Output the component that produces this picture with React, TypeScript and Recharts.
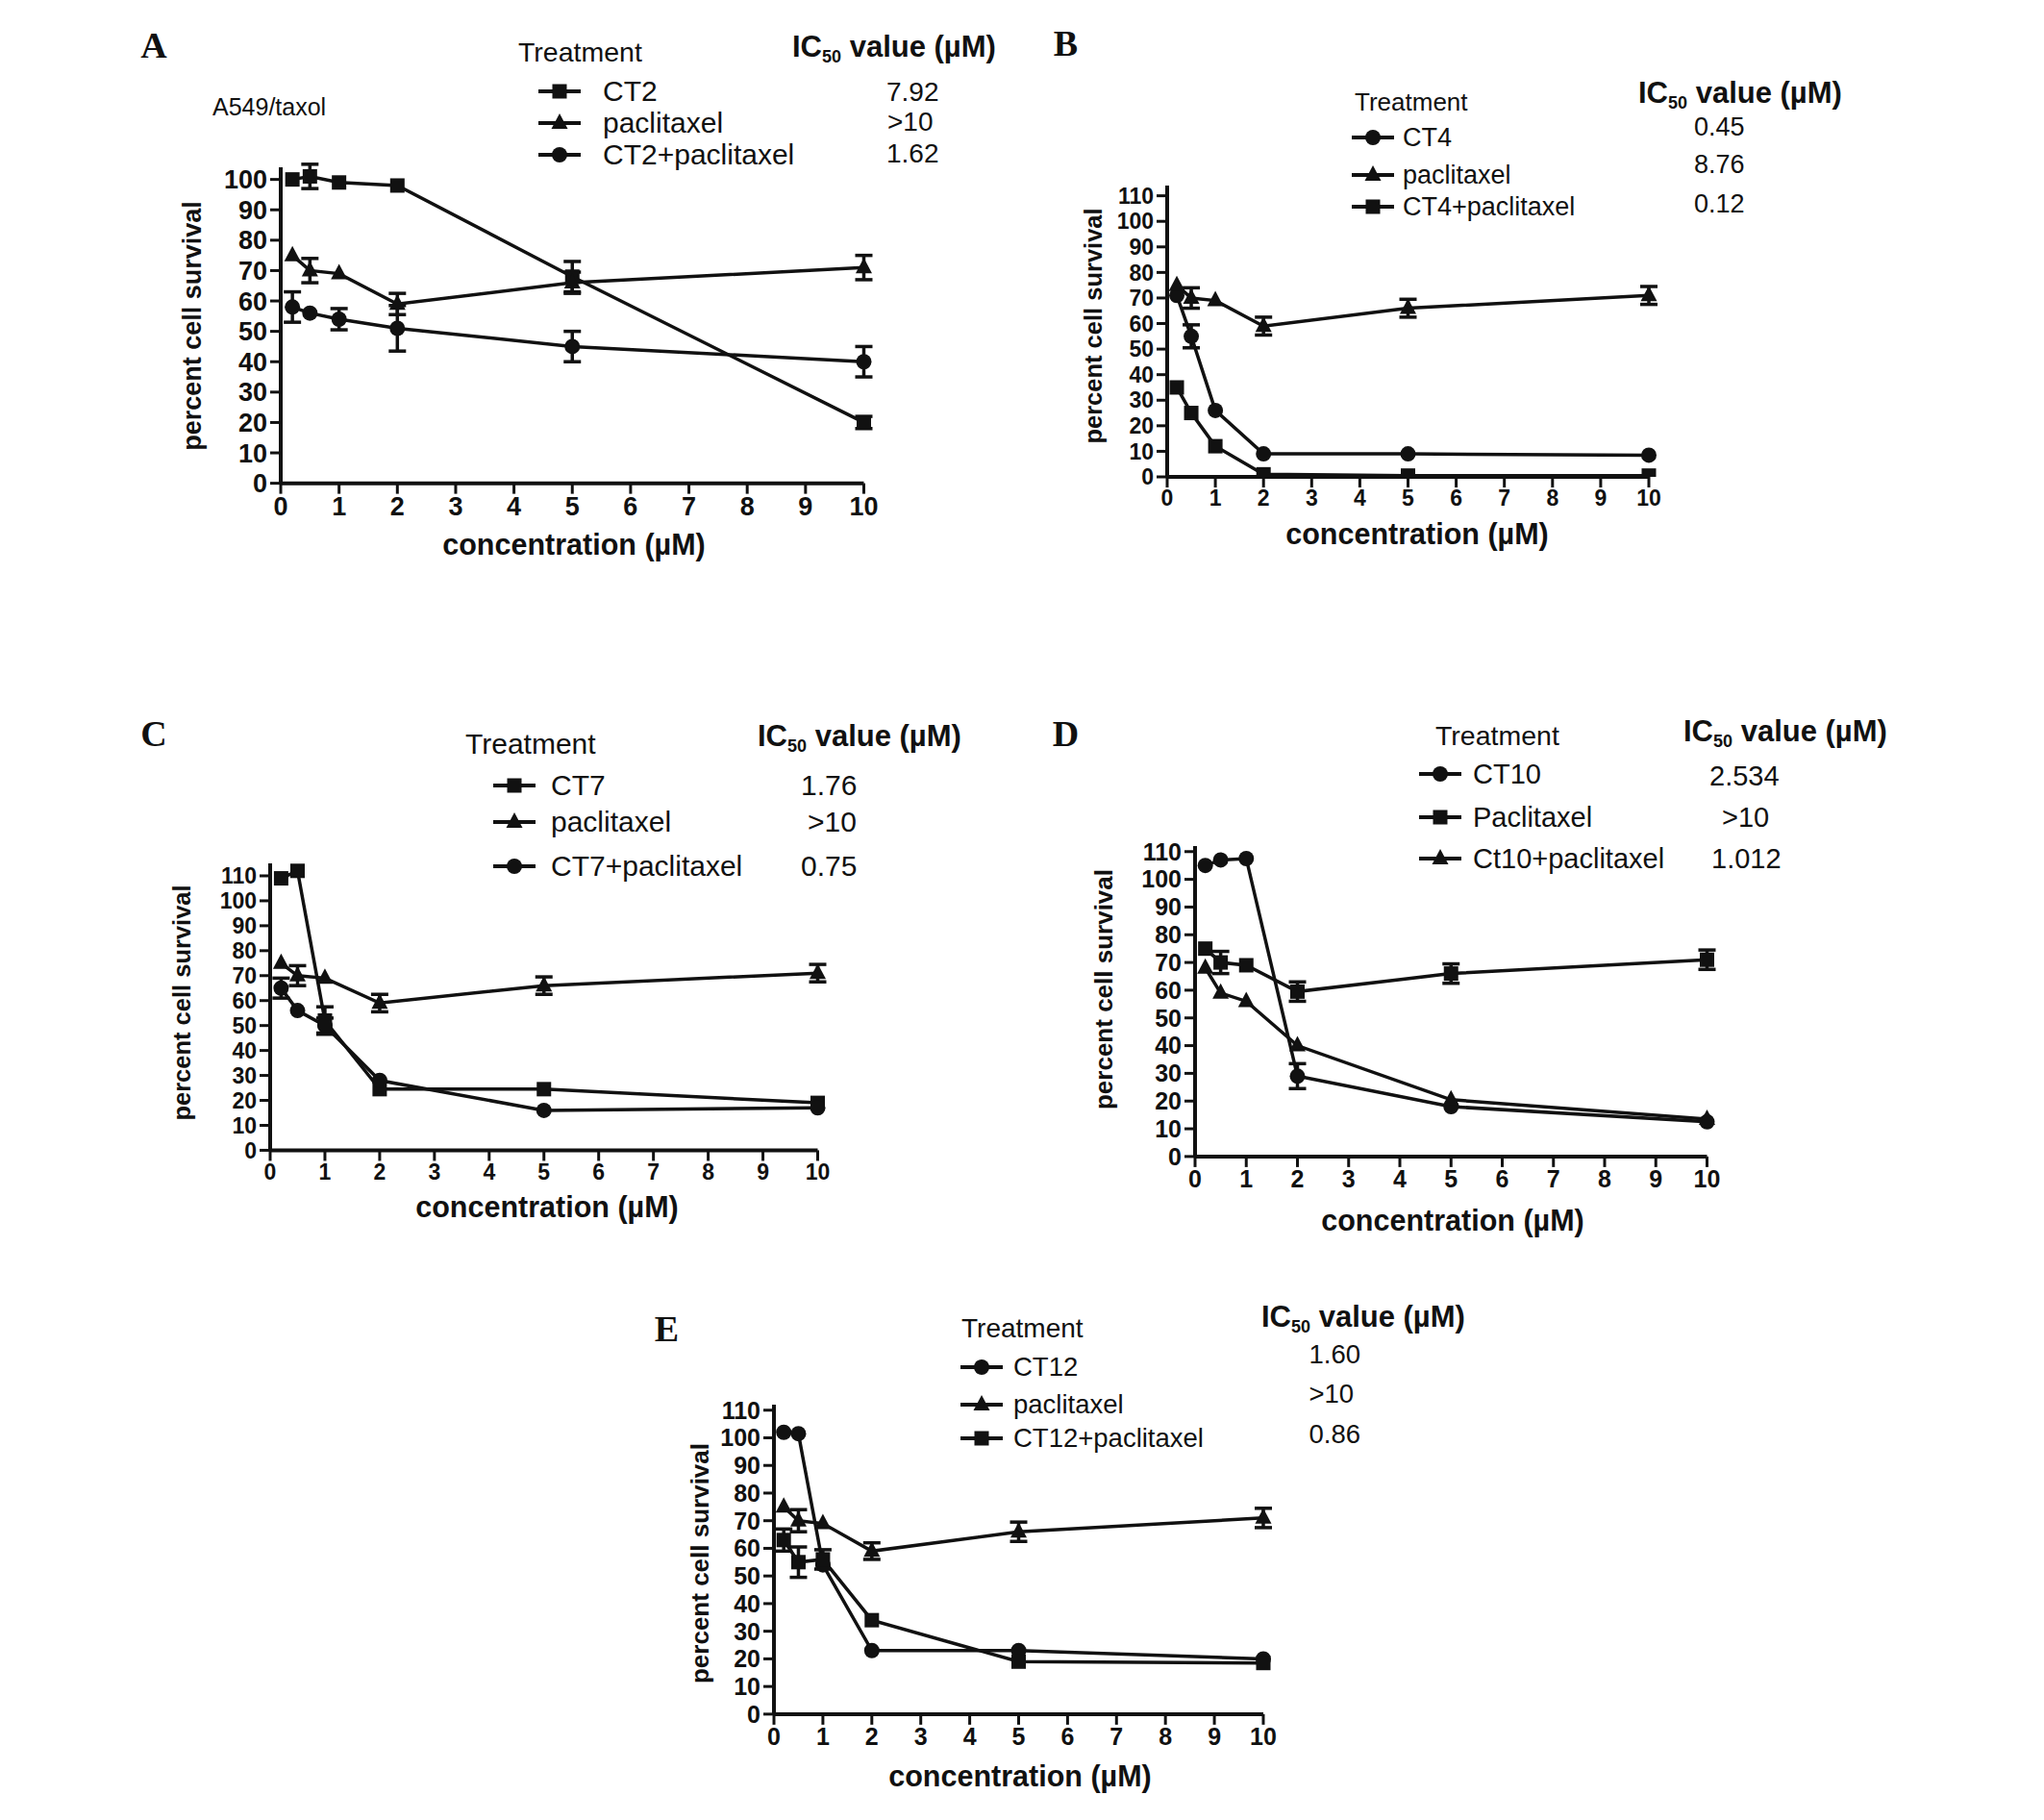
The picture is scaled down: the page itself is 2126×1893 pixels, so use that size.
import React from 'react'
import { LineChart, Line, XAxis, YAxis, ErrorBar } from 'recharts'

// shared x values (µM) and ticks
const concentrations = [0.2, 0.5, 1, 2, 5, 10]
const xTicks = [0, 1, 2, 3, 4, 5, 6, 7, 8, 9, 10]
const yTicks100 = [0, 10, 20, 30, 40, 50, 60, 70, 80, 90, 100]
const yTicks110 = [0, 10, 20, 30, 40, 50, 60, 70, 80, 90, 100, 110]

// panel A
const aCT2 = [100, 101, 99, 98, 68, 20]
const aCT2Err = [null, 4, null, null, 5, 2]
const aPac = [75, 70, 69, 59, 66, 71]
const aPacErr = [null, 4, null, 3.5, 3.5, 4]
const aCombo = [58, 56, 54, 51, 45, 40]
const aComboErr = [5, null, 3.5, 7.5, 5, 5]
const aIC50 = ['7.92', '>10', '1.62']

// panel B
const bCT4 = [71, 55, 26, 9, 9, 8.5]
const bCT4Err = [null, 4.5, null, null, null, null]
const bPac = [75, 70, 69, 59, 66, 71]
const bPacErr = [null, 4, null, 3.5, 3.5, 3.5]
const bCombo = [35, 25, 12, 1, 0.5, 0.5]
const bIC50 = ['0.45', '8.76', '0.12']

// panel C
const cCT7 = [109, 112, 52, 24.5, 24.5, 19]
const cCT7Err = [null, null, 5.5, null, null, null]
const cPac = [75, 70, 69, 59, 66, 71]
const cPacErr = [null, 4, null, 3.5, 3.5, 3.5]
const cCombo = [65, 56, 50, 28, 16, 17]
const cComboErr = [4, null, 3, null, null, null]
const cIC50 = ['1.76', '>10', '0.75']

// panel D
const dCT10 = [105, 107, 107.5, 29, 18, 12.5]
const dCT10Err = [null, null, null, 4.5, null, null]
const dPac = [75, 70, 69, 59.5, 66, 71]
const dPacErr = [null, 4, null, 3.5, 3.5, 3.5]
const dCombo = [68, 59, 56, 40, 20.5, 13.5]
const dIC50 = ['2.534', '>10', '1.012']

// panel E
const eCT12 = [102, 101.5, 54, 23, 23, 20]
const ePac = [75, 70, 69, 59, 66, 71]
const ePacErr = [null, 4, null, 3, 3.5, 3.5]
const eCombo = [63, 55, 56, 34, 19, 18.5]
const eComboErr = [4, 5.5, 3.5, null, null, null]
const eIC50 = ['1.60', '>10', '0.86']

type Shape = 'square' | 'triangle' | 'circle'

interface Series {
  name: string
  shape: Shape
  values: number[]
  errors?: (number | null)[]
}

const INK = '#111'
const SANS = '"Liberation Sans", Arial, sans-serif'

function drawShape(shape: Shape, cx: number, cy: number) {
  if (shape === 'square') return <rect x={cx - 7.5} y={cy - 7.5} width={15} height={15} fill={INK} />
  if (shape === 'circle') return <circle cx={cx} cy={cy} r={8} fill={INK} />
  return <polygon points={`${cx},${cy - 10} ${cx + 8.5},${cy + 6} ${cx - 8.5},${cy + 6}`} fill={INK} />
}

const makeDot = (shape: Shape) => (props: any) => {
  const { cx, cy, index } = props
  if (cx == null || cy == null) return <g key={index} />
  return <g key={index}>{drawShape(shape, cx, cy)}</g>
}

function LegendSymbol({ shape }: { shape: Shape }) {
  return (
    <svg width={48} height={24} style={{ position: 'absolute', left: 0, top: -12 }}>
      <line x1={2} y1={12} x2={46} y2={12} stroke={INK} strokeWidth={4} />
      {drawShape(shape, 24, 12)}
    </svg>
  )
}

function Txt({ x, y, size, bold, children, center }: any) {
  return (
    <div
      style={{
        position: 'absolute',
        left: x,
        top: y,
        transform: center ? 'translate(-50%, -50%)' : 'translateY(-50%)',
        fontFamily: SANS,
        fontSize: size,
        fontWeight: bold ? 'bold' : 'normal',
        lineHeight: 1,
        whiteSpace: 'nowrap',
        color: INK,
      }}
    >
      {children}
    </div>
  )
}

interface PanelProps {
  letter: string
  letterPos: [number, number]
  series: Series[]
  ic50: string[]
  plot: { left: number; right: number; y0: number; perUnit: number; yMax: number }
  yTicks: number[]
  treatmentPos: [number, number]
  icPos: [number, number]
  rowsY: number[]
  symbolX: number
  textX: number
  valuesX: number[]
  valuesY: number[]
  yLabel: [number, number]
  xLabel: [number, number]
  fonts: { tick: number; yLabel: number; legend: number; treat: number; value: number }
  note?: { text: string; x: number; y: number }
}

function Panel(p: PanelProps) {
  const rows = concentrations.map((c, i) => {
    const row: any = { x: c }
    p.series.forEach((s, k) => {
      row[`s${k}`] = s.values[i]
      row[`e${k}`] = s.errors ? s.errors[i] : null
    })
    return row
  })
  const plotW = p.plot.right - p.plot.left
  const plotH = p.plot.yMax * p.plot.perUnit
  const top = p.plot.y0 - plotH
  const padL = 130
  const padT = 24
  const padR = 40
  const axisH = 70
  const tickStyle = { fill: INK, fontSize: p.fonts.tick, fontWeight: 'bold', fontFamily: SANS }

  return (
    <>
      <div style={{ position: 'absolute', left: p.plot.left - padL, top: top - padT }}>
        <LineChart
          width={plotW + padL + padR}
          height={plotH + padT + axisH}
          data={rows}
          margin={{ top: padT, right: padR, bottom: 0, left: 20 }}
        >
          <XAxis
            dataKey="x"
            type="number"
            domain={[0, 10]}
            ticks={xTicks}
            interval={0}
            height={axisH}
            stroke={INK}
            strokeWidth={4}
            tickSize={11}
            tickMargin={3}
            tick={tickStyle}
            tickLine={{ stroke: INK, strokeWidth: 3 }}
          />
          <YAxis
            type="number"
            domain={[0, p.plot.yMax]}
            ticks={p.yTicks}
            interval={0}
            width={110}
            stroke={INK}
            strokeWidth={4}
            tickSize={11}
            tickMargin={3}
            tick={tickStyle}
            tickLine={{ stroke: INK, strokeWidth: 3 }}
            allowDataOverflow
          />
          {p.series.map((s, k) => (
            <Line
              key={s.name}
              type="linear"
              dataKey={`s${k}`}
              stroke={INK}
              strokeWidth={3.5}
              dot={makeDot(s.shape)}
              activeDot={false}
              isAnimationActive={false}
            >
              {s.errors && (
                <ErrorBar dataKey={`e${k}`} width={9} strokeWidth={3.5} stroke={INK} direction="y" />
              )}
            </Line>
          ))}
        </LineChart>
      </div>

      <div
        style={{
          position: 'absolute',
          left: p.letterPos[0],
          top: p.letterPos[1],
          transform: 'translate(-50%, -50%)',
          fontFamily: '"Liberation Serif", "Times New Roman", serif',
          fontWeight: 'bold',
          fontSize: 38,
          lineHeight: 1,
          color: INK,
        }}
      >
        {p.letter}
      </div>

      <Txt x={p.treatmentPos[0]} y={p.treatmentPos[1]} size={p.fonts.treat}>Treatment</Txt>
      <Txt x={p.icPos[0]} y={p.icPos[1]} size={31} bold>
        IC<span style={{ fontSize: 18, verticalAlign: -6 }}>50</span> value (µM)
      </Txt>
      {p.series.map((s, k) => (
        <div key={s.name} style={{ position: 'absolute', left: p.symbolX, top: p.rowsY[k] }}>
          <LegendSymbol shape={s.shape} />
        </div>
      ))}
      {p.series.map((s, k) => (
        <Txt key={s.name} x={p.textX} y={p.rowsY[k]} size={p.fonts.legend}>{s.name}</Txt>
      ))}
      {p.ic50.map((v, k) => (
        <Txt key={k} x={p.valuesX[k]} y={p.valuesY[k]} size={p.fonts.value}>{v}</Txt>
      ))}
      {p.note && <Txt x={p.note.x} y={p.note.y} size={25}>{p.note.text}</Txt>}

      <div
        style={{
          position: 'absolute',
          left: p.yLabel[0],
          top: p.yLabel[1],
          transform: 'translate(-50%, -50%) rotate(-90deg)',
          fontFamily: SANS,
          fontWeight: 'bold',
          fontSize: p.fonts.yLabel,
          lineHeight: 1,
          whiteSpace: 'nowrap',
          color: INK,
        }}
      >
        percent cell survival
      </div>
      <Txt x={p.xLabel[0]} y={p.xLabel[1]} size={30.5} bold center>concentration (µM)</Txt>
    </>
  )
}

export default function App() {
  return (
    <div style={{ position: 'absolute', left: 0, top: 0, width: 2126, height: 1893, background: '#fff', overflow: 'hidden' }}>
      <Panel
        letter="A"
        letterPos={[160, 47]}
        series={[
          { name: 'CT2', shape: 'square', values: aCT2, errors: aCT2Err },
          { name: 'paclitaxel', shape: 'triangle', values: aPac, errors: aPacErr },
          { name: 'CT2+paclitaxel', shape: 'circle', values: aCombo, errors: aComboErr },
        ]}
        ic50={aIC50}
        plot={{ left: 291.5, right: 898, y0: 503, perUnit: 3.16, yMax: 104 }}
        yTicks={yTicks100}
        treatmentPos={[539, 54]}
        icPos={[824, 50]}
        rowsY={[95, 127.5, 161]}
        symbolX={558}
        textX={627}
        valuesX={[922, 923, 922]}
        valuesY={[96, 127, 160]}
        yLabel={[200, 339]}
        xLabel={[597, 566]}
        fonts={{ tick: 27, yLabel: 27, legend: 30, treat: 28.5, value: 28 }}
        note={{ text: 'A549/taxol', x: 221, y: 111 }}
      />
      <Panel
        letter="B"
        letterPos={[1108.5, 44.5]}
        series={[
          { name: 'CT4', shape: 'circle', values: bCT4, errors: bCT4Err },
          { name: 'paclitaxel', shape: 'triangle', values: bPac, errors: bPacErr },
          { name: 'CT4+paclitaxel', shape: 'square', values: bCombo },
        ]}
        ic50={bIC50}
        plot={{ left: 1214, right: 1715, y0: 496, perUnit: 2.658, yMax: 114 }}
        yTicks={yTicks110}
        treatmentPos={[1409, 106]}
        icPos={[1704, 98]}
        rowsY={[143, 182, 215]}
        symbolX={1404}
        textX={1459}
        valuesX={[1762, 1762, 1762]}
        valuesY={[132, 171, 212]}
        yLabel={[1138, 339]}
        xLabel={[1474, 555]}
        fonts={{ tick: 23, yLabel: 25.5, legend: 27, treat: 26, value: 27 }}
      />
      <Panel
        letter="C"
        letterPos={[160, 763]}
        series={[
          { name: 'CT7', shape: 'square', values: cCT7, errors: cCT7Err },
          { name: 'paclitaxel', shape: 'triangle', values: cPac, errors: cPacErr },
          { name: 'CT7+paclitaxel', shape: 'circle', values: cCombo, errors: cComboErr },
        ]}
        ic50={cIC50}
        plot={{ left: 280.5, right: 850, y0: 1196.5, perUnit: 2.595, yMax: 115 }}
        yTicks={yTicks110}
        treatmentPos={[484, 774]}
        icPos={[788, 767]}
        rowsY={[817, 855, 901]}
        symbolX={511}
        textX={573}
        valuesX={[833, 840, 833]}
        valuesY={[817, 855, 901]}
        yLabel={[190, 1043]}
        xLabel={[569, 1255]}
        fonts={{ tick: 23, yLabel: 25.5, legend: 30, treat: 30, value: 30 }}
      />
      <Panel
        letter="D"
        letterPos={[1108.5, 763]}
        series={[
          { name: 'CT10', shape: 'circle', values: dCT10, errors: dCT10Err },
          { name: 'Paclitaxel', shape: 'square', values: dPac, errors: dPacErr },
          { name: 'Ct10+paclitaxel', shape: 'triangle', values: dCombo },
        ]}
        ic50={dIC50}
        plot={{ left: 1243, right: 1775.5, y0: 1203, perUnit: 2.883, yMax: 112 }}
        yTicks={yTicks110}
        treatmentPos={[1493, 765]}
        icPos={[1751, 762]}
        rowsY={[805, 850, 893]}
        symbolX={1474}
        textX={1532}
        valuesX={[1778, 1791, 1780]}
        valuesY={[807, 850, 893]}
        yLabel={[1148, 1029]}
        xLabel={[1511, 1269]}
        fonts={{ tick: 25, yLabel: 26, legend: 29, treat: 28.5, value: 29 }}
      />
      <Panel
        letter="E"
        letterPos={[693.5, 1382]}
        series={[
          { name: 'CT12', shape: 'circle', values: eCT12 },
          { name: 'paclitaxel', shape: 'triangle', values: ePac, errors: ePacErr },
          { name: 'CT12+paclitaxel', shape: 'square', values: eCombo, errors: eComboErr },
        ]}
        ic50={eIC50}
        plot={{ left: 805, right: 1314, y0: 1783, perUnit: 2.874, yMax: 112 }}
        yTicks={yTicks110}
        treatmentPos={[1000, 1382]}
        icPos={[1312, 1371]}
        rowsY={[1422, 1461, 1496]}
        symbolX={997}
        textX={1054}
        valuesX={[1361.5, 1361.5, 1361.5]}
        valuesY={[1409, 1450, 1492]}
        yLabel={[728, 1626]}
        xLabel={[1061, 1847]}
        fonts={{ tick: 25, yLabel: 26, legend: 27.5, treat: 28, value: 27.5 }}
      />
    </div>
  )
}
